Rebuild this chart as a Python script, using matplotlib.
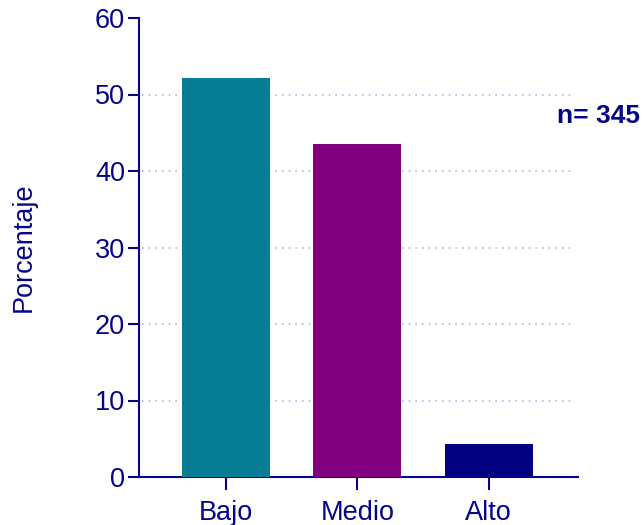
import numpy as np
import matplotlib.pyplot as plt

plt.rcParams['font.family'] = ['Liberation Sans', 'DejaVu Sans']

# data
categories = ['Bajo', 'Medio', 'Alto']
porcentajes = [52.17, 43.48, 4.35]
colores = ['#077d93', '#800080', '#000080']
n_total = 345

navy = '#05058a'

fig = plt.figure(figsize=(6.42, 5.25), dpi=100)
ax = fig.add_axes([139/642, 1 - 477/525, (578 - 139)/642, (477 - 18)/525])

x = np.arange(len(categories))
ax.bar(x, porcentajes, width=0.67, color=colores, zorder=3)

ax.set_xlim(-0.662, 2.68)
ax.set_ylim(0, 60)
ax.set_yticks(range(0, 61, 10))
ax.set_xticks(x)
ax.set_xticklabels(categories)

# dotted grid lines
for v in range(10, 60, 10):
    ax.plot([-0.64, 2.64], [v, v], color='#b4b4ec', linestyle=(0, (1, 3)),
            linewidth=1.2, zorder=1)

for s in ['top', 'right']:
    ax.spines[s].set_visible(False)
for s in ['left', 'bottom']:
    ax.spines[s].set_color(navy)
    ax.spines[s].set_linewidth(1.5)

ax.tick_params(axis='both', colors=navy, labelsize=19.5, width=1.5, length=8)
ax.tick_params(axis='x', length=9.5, pad=7)
ax.tick_params(axis='y', pad=2)
ax.set_ylabel('Porcentaje', color=navy, fontsize=19.5, labelpad=42)

fig.text(557/642, 1 - 116/525, 'n= %d' % n_total, color=navy, fontsize=19,
         fontweight='bold', ha='left', va='center')

fig.savefig('out.png', dpi=100)
